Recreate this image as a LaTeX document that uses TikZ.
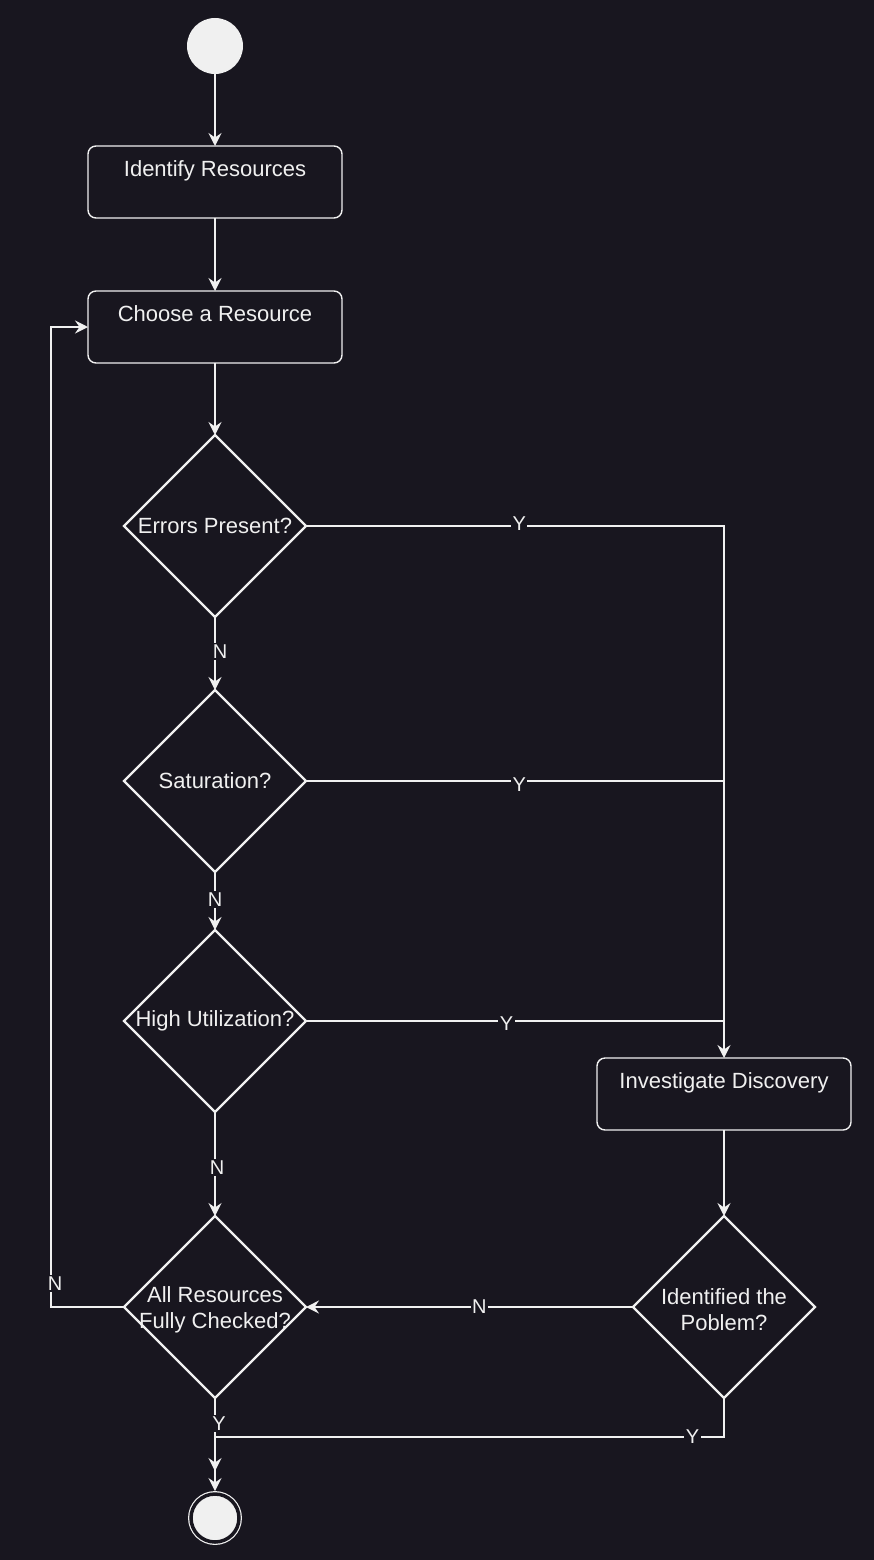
\documentclass[tikz,border=0pt]{standalone}
\usepackage{fontspec}
\setmainfont{Liberation Sans}
\usetikzlibrary{arrows.meta,positioning,shapes.geometric}
\definecolor{night}{RGB}{24,22,31}
\definecolor{chalk}{RGB}{240,240,240}
\tikzset{
  base/.style={font=\fontsize{22}{26}\selectfont,text=chalk},
  act/.style={base,draw=chalk,rounded corners=8pt,line width=1.4pt,fill=night,minimum width=254pt,minimum height=72pt,text height=15pt,text depth=26pt,inner sep=0pt,outer sep=0pt},
  decide/.style={draw=chalk,diamond,aspect=1,line width=2.4pt,minimum width=182pt,minimum height=182pt,inner sep=0pt,outer sep=0pt},
  dtext/.style={base,align=center,inner sep=0pt},
  begin/.style={circle,fill=chalk,minimum size=56pt,inner sep=0pt,outer sep=0pt},
  finish/.style={circle,fill=chalk,draw=chalk,double=night,double distance=3.5pt,line width=1.2pt,minimum size=48pt,inner sep=0pt,outer sep=3pt},
  lbl/.style={fill=night,text=chalk,inner sep=1.5pt,font=\fontsize{20}{24}\selectfont},
  flow/.style={-{Stealth[length=13pt,width=13pt,inset=4.5pt]},chalk,line width=1.4pt},
  wire/.style={chalk,line width=1.4pt},
}
\begin{document}
\begin{tikzpicture}[x=1pt,y=1pt]
\fill[night] (0,0) rectangle (874,-1560);
% main column
\node[begin] (start) at (215,-46) {};
\node[act,below=72pt of start] (idres) {Identify Resources};
\node[act,below=73pt of idres] (choose) {Choose a Resource};
\node[decide,below=72pt of choose,label={[dtext]center:Errors Present?}] (err) {};
\node[decide,below=73pt of err,label={[dtext]center:Saturation?}] (sat) {};
\node[decide,below=58pt of sat,label={[dtext]center:High Utilization?}] (util) {};
\node[decide,below=104pt of util,label={[dtext,yshift=-3pt]center:{All Resources\\Fully Checked?}}] (done) {};
\node[finish,below=93pt of done] (fin) {};
\coordinate[above=20pt of fin.north] (merge);
% right column
\node[decide,right=327pt of done,label={[dtext,yshift=-3pt]center:{Identified the\\Poblem?}}] (solved) {};
\node[act,above=86pt of solved] (inv) {Investigate Discovery};
% connectors
\draw[flow] (start) -- (idres);
\draw[flow] (idres) -- (choose);
\draw[flow] (choose) -- (err);
\draw[flow] (err) -- node[lbl,pos=0.47,xshift=5pt]{N} (sat);
\draw[flow] (sat) -- node[lbl,pos=0.47]{N} (util);
\draw[flow] (util) -- node[lbl,pos=0.53,xshift=2pt]{N} (done);
\draw[flow] (err.east) -- node[lbl,pos=0.51,yshift=2pt]{Y} (err.east -| inv.north) -- (inv.north);
\draw[wire] (sat.east) -- node[lbl,pos=0.51,yshift=-4pt]{Y} (sat.east -| inv.north);
\draw[wire] (util.east) -- node[lbl,pos=0.48,yshift=-3pt]{Y} (util.east -| inv.north);
\draw[flow] (inv) -- (solved);
\draw[flow] (solved) -- node[lbl,pos=0.47]{N} (done);
\draw[flow] (done.west) -| node[lbl,pos=0.512,xshift=4pt]{N} ([xshift=-37pt]choose.west) -- (choose.west);
\draw[flow] (done) -- node[lbl,pos=0.27,xshift=4pt]{Y} (fin);
\draw[flow] (solved.south) |- node[lbl,pos=0.531]{Y} ([yshift=34pt]merge) -- (merge);
\end{tikzpicture}
\end{document}
